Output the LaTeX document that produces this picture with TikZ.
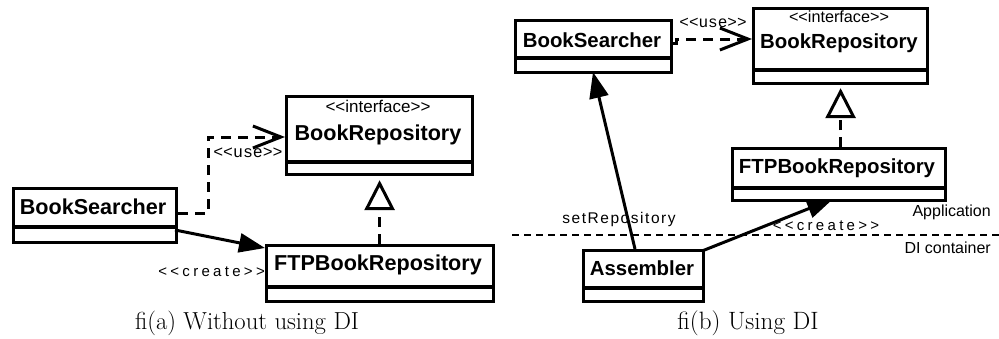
\documentclass[tikz,border=0pt]{standalone}
\usepackage{fontspec}
\usetikzlibrary{arrows.meta}
\newfontfamily\clsfont{Liberation Sans}
\newfontfamily\monofont{Liberation Mono}
\newfontfamily\spacedfont[LetterSpace=22]{Liberation Sans}
\newfontfamily\lightspaced[LetterSpace=10]{Liberation Sans}
\begin{document}
\begin{tikzpicture}[x=1pt,y=-1pt,
  box/.style={draw,line width=3.2pt,rectangle,anchor=north west,inner sep=0pt},
  sepline/.style={line width=3.2pt},
  clsname/.style={inner sep=0pt,font=\clsfont\bfseries\fontsize{21.6}{24}\selectfont},
  clsnameB/.style={inner sep=0pt,font=\clsfont\bfseries\fontsize{20.4}{23}\selectfont},
  stereo/.style={inner sep=0pt,font=\clsfont\fontsize{17}{19}\selectfont},
  stereoB/.style={inner sep=0pt,font=\clsfont\fontsize{16.2}{18}\selectfont},
  uselbl/.style={inner sep=0pt,font=\monofont\fontsize{16.5}{18}\selectfont},
  createlbl/.style={inner sep=0pt,font=\spacedfont\fontsize{15}{17}\selectfont},
  setlbl/.style={inner sep=0pt,font=\lightspaced\fontsize{15.5}{17}\selectfont},
  layerlbl/.style={inner sep=0pt,font=\clsfont\fontsize{16}{18}\selectfont},
  caption/.style={inner sep=0pt,font=\fontsize{22}{25}\selectfont},
  usearrow/.style={line width=3pt,dash pattern=on 10pt off 7pt,-{Straight Barb[length=28pt,width=22pt]}},
  realize/.style={line width=3pt,dash pattern=on 10pt off 7pt,-{Triangle[open,fill=white,length=30pt,width=30pt]}},
  assoc/.style={line width=3pt,-{Triangle[length=26pt,width=19pt]}},
  layersep/.style={line width=2.8pt,dash pattern=on 7pt off 5pt}
]
\useasboundingbox (0,0) rectangle (999,338);

% ---------- (a) ----------
\node[box,minimum width=186pt,minimum height=78pt] (brA) at (285,95) {};
\draw[sepline] (285,162) -- (471,162);
\node[stereo] (brAst) at (378,106) {<<interface>>};
\node[clsname] (brAn) at (378,135) {BookRepository};

\node[box,minimum width=163pt,minimum height=54pt] (bsA) at (12,187) {};
\draw[sepline] (12,227) -- (175,227);
\node[clsname] (bsAn) at (93,207) {BookSearcher};

\node[box,minimum width=227pt,minimum height=56pt] (ftpA) at (265,244) {};
\draw[sepline] (265,287) -- (492,287);
\node[clsname] (ftpAn) at (378,265) {FTPBookRepository};

\coordinate (uA1) at (208,213);
\coordinate (uA2) at (208,137);
\draw[usearrow] (bsA.east |- uA1) -- (uA1) -- (uA2) -- (brA.west |- uA2);
\node[uselbl] (useA) at (248,153) {<<use>>};

\draw[realize,shorten >=4pt] (ftpA.north -| brA.south) -- (brA.south);

\coordinate (cA1) at (175,230);
\coordinate (cA2) at (265,248);
\draw[assoc] (cA1) -- (cA2);
\node[createlbl,anchor=east] (createA) at (265,272) {<<create>>};

\node[caption] (capA) at (247,323) {\scalebox{1.12}{fi(a) Without using DI}};

% ---------- (b) ----------
\node[box,minimum width=156pt,minimum height=52pt] (bsB) at (514,19) {};
\draw[sepline] (514,58) -- (670,58);
\node[clsnameB] (bsBn) at (592,40) {BookSearcher};

\node[box,minimum width=174pt,minimum height=75pt] (brB) at (752,7) {};
\draw[sepline] (752,70) -- (926,70);
\node[stereoB] (brBst) at (839,17) {<<interface>>};
\node[clsnameB] (brBn) at (839,43) {BookRepository};

\node[box,minimum width=213pt,minimum height=52pt] (ftpB) at (731,147) {};
\draw[sepline] (731,188) -- (944,188);
\node[clsnameB] (ftpBn) at (837,168) {FTPBookRepository};

\node[box,minimum width=120pt,minimum height=51pt] (asmB) at (582,249) {};
\draw[sepline] (582,288) -- (702,288);
\node[clsnameB] (asmBn) at (642,268) {Assembler};

\coordinate (uB1) at (676,43);
\coordinate (uB2) at (676,39);
\draw[usearrow] (bsB.east |- uB1) -- (uB1) -- (uB2) -- (brB.west |- uB2);
\node[uselbl,font=\monofont\fontsize{16}{18}\selectfont] (useB) at (713,23) {<<use>>};

\draw[realize,shorten >=3pt] (ftpB.north -| brB.south) -- (brB.south);

\coordinate (aB1) at (635,249);
\coordinate (aB2) at (593,72);
\draw[assoc] (aB1) -- (aB2);
\coordinate (aB3) at (702,251);
\coordinate (aB4) at (833,199);
\draw[assoc] (aB3) -- (aB4);

\coordinate (ls1) at (512,235);
\coordinate (ls2) at (999,235);
\draw[layersep] (ls1) -- (ls2);

\node[setlbl] (setR) at (619,219) {setRepository};
\node[createlbl] (createB) at (826,226) {<<create>>};
\node[layerlbl,anchor=east] (appl) at (991,212) {Application};
\node[layerlbl,anchor=east] (dic) at (991,248) {DI container};

\node[caption] (capB) at (748,323) {\scalebox{1.14}{fi(b) Using DI}};
\end{tikzpicture}
\end{document}
